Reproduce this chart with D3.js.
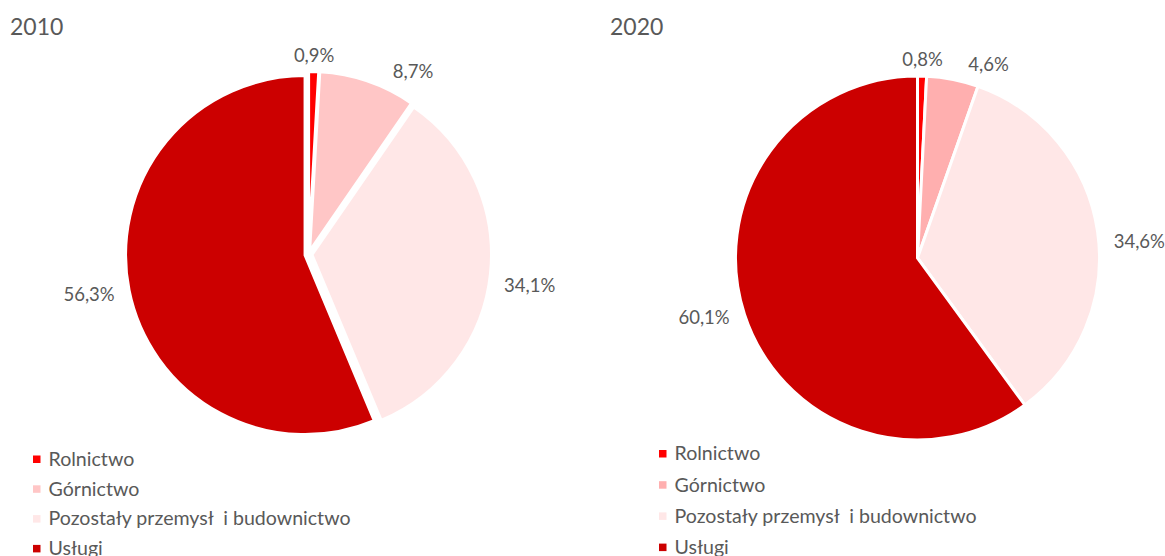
<!DOCTYPE html>
<html>
<head>
<meta charset="utf-8">
<title>Struktura - 2010 i 2020</title>
<style>
  body { margin: 0; background: #fff; }
  text { font-family: Lato, "Liberation Sans", sans-serif; fill: #595959; }
</style>
</head>
<body>
<div id="chart"></div>
<script src="https://cdn.jsdelivr.net/npm/d3@7"></script>
<script>
var categories = ["Rolnictwo", "Górnictwo", "Pozostały przemysł  i budownictwo", "Usługi"];
var years = ["2010", "2020"];
var values2010 = [0.9, 8.7, 34.1, 56.3];
var values2020 = [0.8, 4.6, 34.6, 60.1];

var pl = d3.formatLocale({ decimal: ",", thousands: " ", grouping: [3], currency: ["", " zł"] });
var fmt = pl.format(".1f");

var svg = d3.select("#chart").append("svg")
    .attr("width", 1165)
    .attr("height", 556);

function drawPie(opts) {
    var g = svg.append("g");
    var pie = d3.pie().sort(null).value(function(d) { return d.value; });
    var arcs = pie(opts.data);
    var arc = d3.arc().innerRadius(0).outerRadius(opts.r);

    g.append("text")
        .attr("x", opts.titleX)
        .attr("y", 35)
        .style("font-size", "23px")
        .text(opts.title);

    var slice = g.selectAll(".slice")
        .data(arcs)
        .enter().append("g")
            .attr("class", "slice")
            .attr("transform", function(d) {
                var a = (d.startAngle + d.endAngle) / 2;
                return "translate(" + (opts.cx + opts.explode * Math.sin(a)) + "," + (opts.cy - opts.explode * Math.cos(a)) + ")";
            });

    slice.append("path")
        .attr("d", arc)
        .style("fill", function(d, i) { return opts.colors[i]; })
        .style("stroke", "#fff")
        .style("stroke-width", opts.stroke);

    // data labels outside the slices
    slice.append("text")
        .attr("text-anchor", "middle")
        .attr("dy", "0.35em")
        .style("font-size", "18.5px")
        .attr("transform", function(d, i) {
            var a = (d.startAngle + d.endAngle) / 2 + opts.labelNudge[i] * Math.PI / 180;
            var lr = opts.r - opts.stroke / 2 + 17 + 25 * Math.abs(Math.sin(a));
            return "translate(" + (lr * Math.sin(a)) + "," + (-lr * Math.cos(a)) + ")";
        })
        .text(function(d) { return fmt(d.data.value) + "%"; });

    var legend = g.selectAll(".legend")
        .data(opts.data)
        .enter().append("g")
            .attr("class", "legend")
            .attr("transform", function(d, i) { return "translate(" + opts.legendX + "," + (opts.legendY + i * opts.legendStep) + ")"; });

    legend.append("rect")
        .attr("x", 0)
        .attr("y", -3.5)
        .attr("width", 7.5)
        .attr("height", 7.5)
        .style("fill", function(d, i) { return opts.colors[i]; });

    legend.append("text")
        .attr("x", 15.5)
        .attr("dy", "0.35em")
        .style("font-size", "19.6px")
        .style("white-space", "pre")
        .attr("xml:space", "preserve")
        .text(function(d) { return d.label; });
}

function rows(values) {
    return categories.map(function(c, i) { return { label: c, value: values[i] }; });
}

drawPie({
    data: rows(values2010),
    title: years[0], titleX: 10,
    cx: 308.5, cy: 254.4, r: 179.5, explode: 3.5, stroke: 3,
    colors: ["#ff0000", "#ffc6c6", "#ffe7e7", "#cc0000"],
    labelNudge: [0, 11, 2, 1],
    legendX: 33, legendY: 459, legendStep: 29.8
});

drawPie({
    data: rows(values2020),
    title: years[1], titleX: 610,
    cx: 917.5, cy: 258, r: 182, explode: 0, stroke: 3,
    colors: ["#ff0000", "#ffafaf", "#ffe7e7", "#cc0000"],
    labelNudge: [0, 9, 4, 2.5],
    legendX: 659, legendY: 453.5, legendStep: 31.2
});
</script>
</body>
</html>
